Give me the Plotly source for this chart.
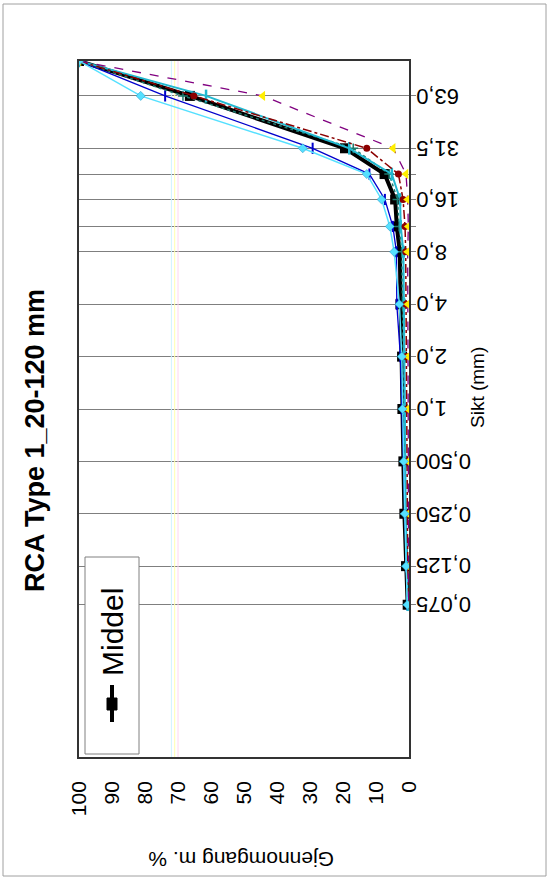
import math
import plotly.graph_objects as go

# ---------------- data ----------------
sieves = [100, 63, 31.5, 22.4, 16, 11.2, 8, 4, 2, 1, 0.5, 0.25, 0.125, 0.075]
sieve_labels = ["", "63,0", "31,5", "", "16,0", "", "8,0", "4,0", "2,0", "1,0",
                "0,500", "0,250", "0,125", "0,075"]
value_ticks = [100, 90, 80, 70, 60, 50, 40, 30, 20, 10, 0]

middel = [100, 66.4, 19.4, 7.4, 4.2, 3.7, 2.8, 2.6, 2.1, 2.0, 1.7, 1.4, 0.9, 0.4]
prove_blue = [100, 73.9, 29.2, 12.0, 7.3, 4.9, 3.8, 3.7, 2.6, 2.2, 1.6, 1.3, 0.9, 0.5]
prove_cyan = [100, 81.3, 32.2, 12.8, 8.3, 5.8, 4.5, 2.9, 2.2, 2.0, 1.6, 1.3, 0.9, 0.5]
prove_red = [100, 65.2, 12.8, 3.2, 1.8, 1.2, 1.0, 0.9, 0.8, 0.7, 0.6, 0.5, 0.4, 0.3]
prove_purple = [100, 44.3, 4.8, 0.9, 0.4, 0.2, 0.4, 0.3, 0.3, 0.3, 0.2, 0.2, 0.2, 0.1]
prove_teal = [100, 61.5, 18.1, 5.2, 2.7, 2.5, 1.7, 1.5, 1.4, 1.3, 1.1, 1.0, 0.7, 0.4]
prove_green = [100, 68.5, 16.9, 6.0, 3.5, 3.0, 2.2, 2.0, 1.8, 1.6, 1.4, 1.2, 0.8, 0.4]

limit_values = [72, 71, 70]
limit_colors = ["#CFF3FF", "#FFFFB0", "#FFD6F0"]
sieve_span = [0.01, 100]

title_text = "RCA Type 1_20-120 mm"
x_title = "Gjennomgang m. %"
y_title = "Sikt (mm)"
legend_name = "Middel"

FONT = "Liberation Sans, Arial, sans-serif"

fig = go.Figure()

for v, c in zip(limit_values, limit_colors):
    fig.add_trace(go.Scatter(x=[v, v], y=sieve_span, mode="lines",
                             line=dict(color=c, width=1), showlegend=False,
                             hoverinfo="skip"))

fig.add_trace(go.Scatter(x=middel, y=sieves, mode="lines+markers", name=legend_name,
                         line=dict(color="black", width=4),
                         marker=dict(symbol="square", size=10, color="black")))

fig.add_trace(go.Scatter(x=prove_blue, y=sieves, mode="lines+markers",
                         line=dict(color="#0000CC", width=1.3),
                         marker=dict(symbol="line-ns", size=8,
                                     line=dict(width=2, color="#0000CC")),
                         showlegend=False))
fig.add_trace(go.Scatter(x=prove_green, y=sieves, mode="lines+markers",
                         line=dict(color="#1E7B6E", width=1.5, dash="dot"),
                         marker=dict(symbol="cross-thin", size=7,
                                     line=dict(width=1.5, color="#1E7B6E")),
                         showlegend=False))
fig.add_trace(go.Scatter(x=prove_teal, y=sieves, mode="lines+markers",
                         line=dict(color="#22B8D0", width=2),
                         marker=dict(symbol="line-ns", size=9,
                                     line=dict(width=2.5, color="#22B8D0")),
                         showlegend=False))
fig.add_trace(go.Scatter(x=prove_red, y=sieves, mode="lines+markers",
                         line=dict(color="#8B0000", width=1.5, dash="dashdot"),
                         marker=dict(symbol="circle", size=7, color="#8B0000"),
                         showlegend=False))
fig.add_trace(go.Scatter(x=prove_purple, y=sieves, mode="lines+markers",
                         line=dict(color="#800080", width=1.3, dash="dash"),
                         marker=dict(symbol="triangle-left", size=9, color="#FFEE00"),
                         showlegend=False))
fig.add_trace(go.Scatter(x=prove_cyan, y=sieves, mode="lines+markers",
                         line=dict(color="#55E0FF", width=1.5),
                         marker=dict(symbol="diamond", size=7, color="#55E0FF",
                                     line=dict(width=0.5, color="#2090C0")),
                         showlegend=False))

# sieve labels (upside down, right of plot)
for s, lab in zip(sieves, sieve_labels):
    if lab:
        fig.add_annotation(x=1, xref="paper", xanchor="left", xshift=5,
                           y=math.log10(s), yref="y", yanchor="middle",
                           text=lab, textangle=180, showarrow=False,
                           font=dict(family=FONT, size=22, color="black"))

L, R, T, B = 79, 409, 61, 757
W, H = R - L, B - T


def px(xp):
    return (xp - L) / W


def py(yp):
    return (B - yp) / H


# title
fig.add_annotation(x=px(35), y=py(441), xref="paper", yref="paper",
                   text="<b>" + title_text + "</b>", textangle=-90, showarrow=False,
                   xanchor="center", yanchor="middle",
                   font=dict(family=FONT, size=27, color="black"))
# axis titles
fig.add_annotation(x=px(478), y=py(387), xref="paper", yref="paper",
                   text=y_title, textangle=-90, showarrow=False,
                   xanchor="center", yanchor="middle",
                   font=dict(family=FONT, size=19, color="black"))
fig.add_annotation(x=px(241), y=py(860), xref="paper", yref="paper",
                   text=x_title, textangle=180, showarrow=False,
                   xanchor="center", yanchor="middle",
                   font=dict(family=FONT, size=21, color="black"))

# manual rotated legend
fig.add_shape(type="rect", xref="paper", yref="paper",
              x0=px(85), x1=px(139), y0=py(754), y1=py(557),
              line=dict(color="#808080", width=1), fillcolor="white")
fig.add_shape(type="line", xref="paper", yref="paper",
              x0=px(112), x1=px(112), y0=py(722), y1=py(685),
              line=dict(color="black", width=4))
fig.add_shape(type="rect", xref="paper", yref="paper",
              x0=px(107), x1=px(117), y0=py(710), y1=py(698),
              line=dict(color="black", width=1), fillcolor="black")
fig.add_annotation(x=px(112), y=py(632), xref="paper", yref="paper",
                   text=legend_name, textangle=-90, showarrow=False,
                   xanchor="center", yanchor="middle",
                   font=dict(family=FONT, size=30, color="black"))

# outer chart border
fig.add_shape(type="rect", xref="paper", yref="paper",
              x0=px(3), x1=px(546), y0=py(876), y1=py(4),
              line=dict(color="#A0A0A0", width=1), layer="below")

fig.update_layout(
    width=549, height=878,
    margin=dict(l=L, r=549 - R, t=T, b=878 - B),
    paper_bgcolor="white", plot_bgcolor="white",
    showlegend=False,
    font=dict(family=FONT, color="black"),
    xaxis=dict(range=[100, 0], tickvals=value_ticks,
               ticktext=[str(v) for v in value_ticks],
               tickangle=-90, tickfont=dict(size=21),
               ticklabelstandoff=14,
               showgrid=False, zeroline=False, ticks="",
               showline=True, mirror=True, linecolor="#333333", linewidth=1.5),
    yaxis=dict(type="log", range=[-2, 2], side="right",
               tickvals=sieves[1:], showticklabels=False,
               showgrid=True, gridcolor="#7F7F7F", gridwidth=1,
               ticks="outside", ticklen=5, tickcolor="#7F7F7F",
               zeroline=False,
               showline=True, mirror=True, linecolor="#333333", linewidth=1.5),
)

fig.write_html("out.html", config={"displayModeBar": False},
               post_script="document.body.style.margin='0';document.body.style.overflow='hidden';")
